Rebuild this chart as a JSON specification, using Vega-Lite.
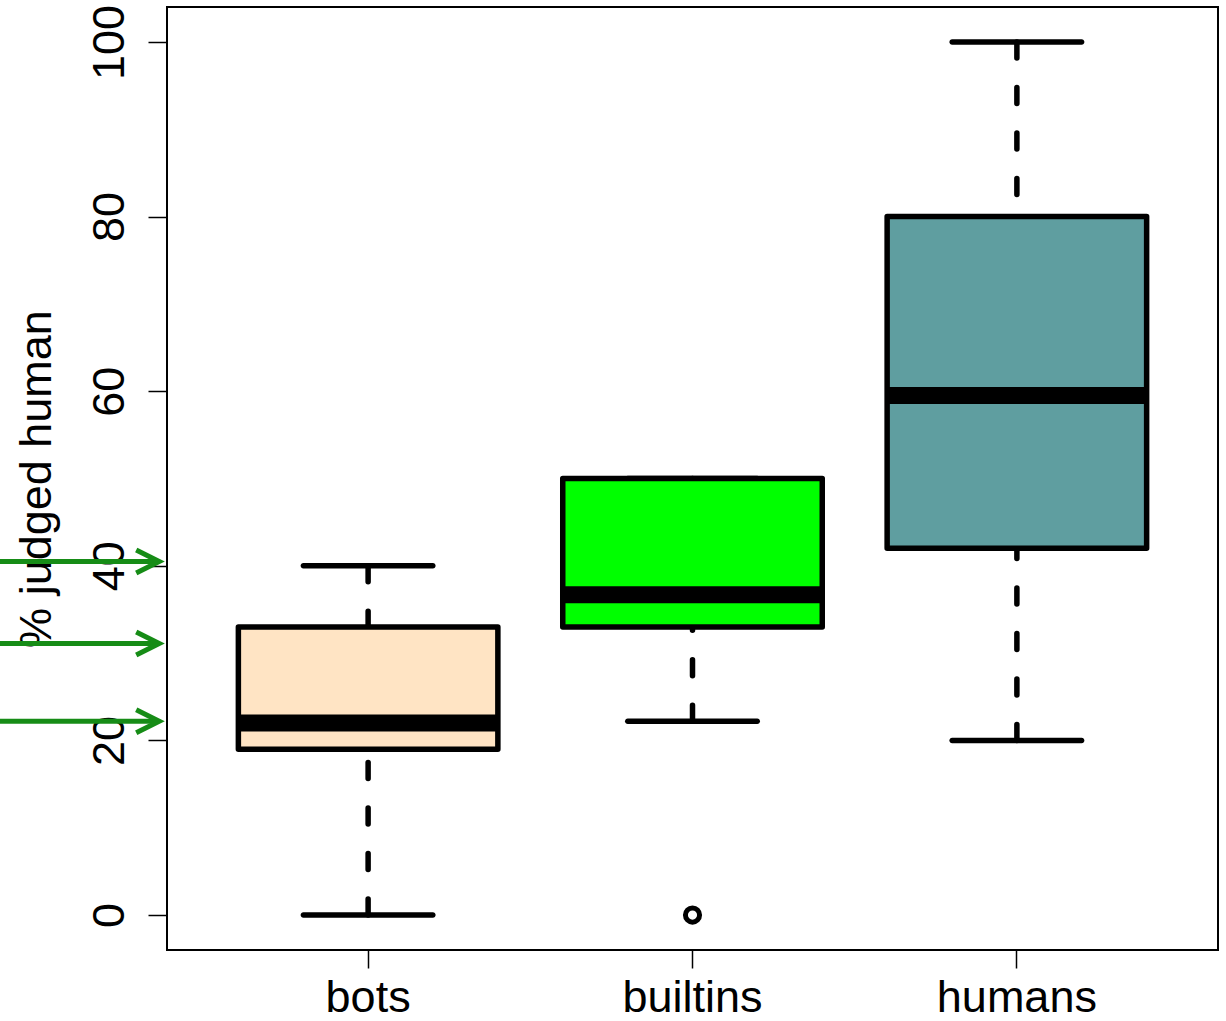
{
  "$schema": "https://vega.github.io/schema/vega-lite/v6.json",
  "width": 1051,
  "height": 943,
  "autosize": {"type": "none"},
  "padding": {"left": 167, "top": 7, "right": 7, "bottom": 71},
  "background": "white",
  "config": {
    "font": "Liberation Sans",
    "view": {"stroke": "black", "strokeWidth": 2},
    "axis": {"labelColor": "black", "titleColor": "black", "tickColor": "black", "grid": false, "domain": false}
  },
  "datasets": {
    "boxes": [
      {"group": "bots", "lower": 0, "q1": 19, "median": 22, "q3": 33, "upper": 40},
      {"group": "builtins", "lower": 22.2, "q1": 33, "median": 36.7, "q3": 50, "upper": 50},
      {"group": "humans", "lower": 20, "q1": 42, "median": 59.5, "q3": 80, "upper": 100}
    ],
    "outliers": [{"group": "builtins", "value": 0}],
    "arrows": [{"level": 40.5}, {"level": 31.1}, {"level": 22.2}]
  },
  "resolve": {"scale": {"x": "independent"}},
  "layer": [
    {
      "encoding": {
        "x": {
          "field": "group",
          "type": "nominal",
          "sort": ["bots", "builtins", "humans"],
          "scale": {"type": "band", "paddingInner": 0, "paddingOuter": 0.12},
          "axis": {"title": null, "labelAngle": 0, "labelFontSize": 45, "labelBaseline": "alphabetic", "labelPadding": 43, "tickSize": 18, "tickWidth": 1.5, "ticks": true}
        }
      },
      "layer": [
        {
          "data": {"name": "boxes"},
          "mark": {"type": "rule", "color": "black", "strokeWidth": 5.5, "strokeDash": [16, 29.5], "strokeCap": "round"},
          "encoding": {
            "y": {"field": "lower", "type": "quantitative",
              "scale": {"domain": [-4, 104], "nice": false, "zero": false},
              "axis": {"values": [0, 20, 40, 60, 80, 100], "labelAngle": 270, "labelAlign": "center", "labelBaseline": "alphabetic", "labelFontSize": 45, "labelPadding": 25, "tickSize": 19, "tickWidth": 1.5,
                "title": "% judged human", "titleFontSize": 45, "titleFontWeight": "normal", "titleAngle": 270, "titleAlign": "center", "titleBaseline": "alphabetic", "titleX": -117, "titleY": 471.5}},
            "y2": {"field": "q1"}
          }
        },
        {
          "data": {"name": "boxes"},
          "mark": {"type": "rule", "color": "black", "strokeWidth": 5.5, "strokeDash": [16, 29.5], "strokeCap": "round"},
          "encoding": {
            "y": {"field": "upper", "type": "quantitative"},
            "y2": {"field": "q3"}
          }
        },
        {
          "data": {"name": "boxes"},
          "mark": {"type": "tick", "color": "black", "size": 135, "thickness": 5.5, "cornerRadius": 2.75, "opacity": 1},
          "encoding": {"y": {"field": "lower", "type": "quantitative"}}
        },
        {
          "data": {"name": "boxes"},
          "mark": {"type": "tick", "color": "black", "size": 135, "thickness": 5.5, "cornerRadius": 2.75, "opacity": 1},
          "encoding": {"y": {"field": "upper", "type": "quantitative"}}
        },
        {
          "data": {"name": "boxes"},
          "mark": {"type": "bar", "width": {"band": 0.8}, "stroke": "black", "strokeWidth": 5.5, "strokeJoin": "round", "opacity": 1},
          "encoding": {
            "y": {"field": "q1", "type": "quantitative"},
            "y2": {"field": "q3"},
            "fill": {"field": "group", "type": "nominal",
              "scale": {"domain": ["bots", "builtins", "humans"], "range": ["#FFE4C4", "#00FF00", "#5F9EA0"]},
              "legend": null}
          }
        },
        {
          "data": {"name": "boxes"},
          "mark": {"type": "tick", "color": "black", "size": 262, "thickness": 17, "opacity": 1},
          "encoding": {"y": {"field": "median", "type": "quantitative"}}
        },
        {
          "data": {"name": "outliers"},
          "mark": {"type": "point", "shape": "circle", "filled": false, "size": 200, "strokeWidth": 5, "color": "black", "opacity": 1},
          "encoding": {"y": {"field": "value", "type": "quantitative"}}
        }
      ]
    },
    {
      "data": {"name": "arrows"},
      "layer": [
        {
          "mark": {"type": "rule", "color": "#168c16", "strokeWidth": 5, "clip": false},
          "encoding": {
            "x": {"datum": -0.14, "type": "quantitative", "scale": {"domain": [0.38, 3.62], "nice": false, "zero": false}, "axis": null},
            "x2": {"datum": 0.352},
            "y": {"field": "level", "type": "quantitative"}
          }
        },
        {
          "mark": {"type": "point", "shape": "M-1,-0.5L0,0L-1,0.5", "filled": false, "size": 2116, "strokeWidth": 5, "color": "#168c16", "opacity": 1, "clip": false, "strokeJoin": "miter"},
          "encoding": {
            "x": {"datum": 0.356, "type": "quantitative"},
            "y": {"field": "level", "type": "quantitative"}
          }
        }
      ]
    }
  ]
}
